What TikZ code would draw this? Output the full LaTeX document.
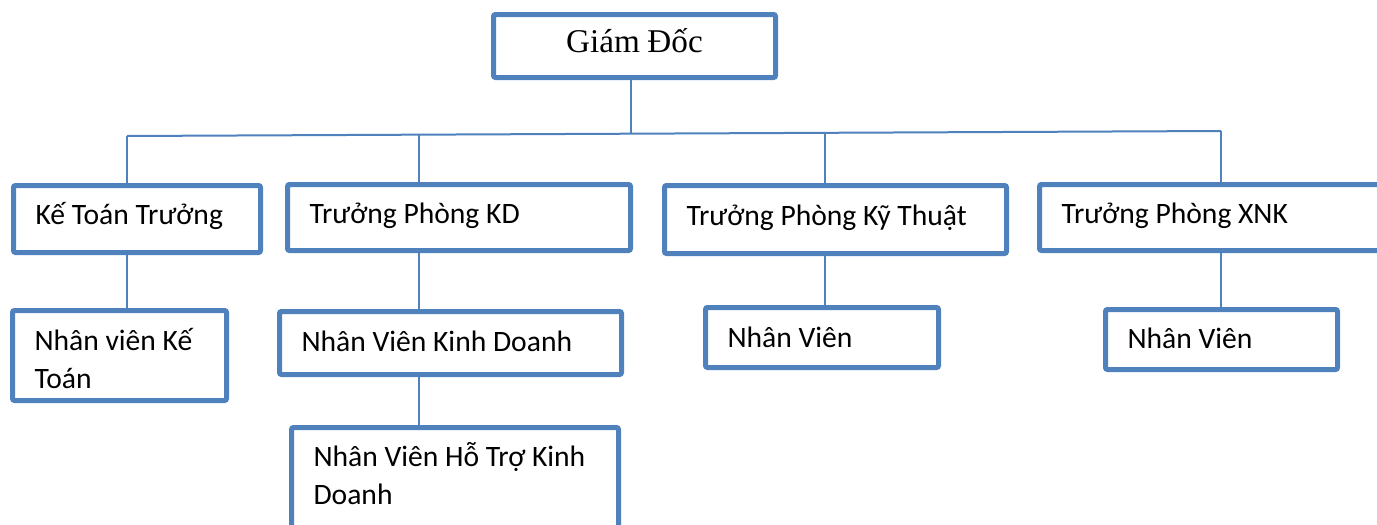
\documentclass[tikz,border=0pt]{standalone}
\usepackage{fontspec}
\setmainfont{Liberation Serif}
\newfontfamily\boxfont{Carlito}
\usetikzlibrary{positioning,calc}
\definecolor{boxblue}{HTML}{4F81BD}

\begin{document}
\begin{tikzpicture}[x=0.5pt,y=-0.5pt,
    box/.style={draw=boxblue, fill=white, line width=2.5pt, rounded corners=1pt,
      inner xsep=11pt, inner ysep=0pt, align=left,
      font=\boxfont\fontsize{14.8}{19}\selectfont, text height=9.5pt, text depth=4pt,
      execute at begin node={\spaceskip=0.226em\relax}},
    staff/.style={box, text height=12.5pt},
    link/.style={draw=boxblue, line width=1pt}]
    \clip (0,0) rectangle (1377,525);
    \fill[white] (0,0) rectangle (1377,525);

    % bus line under the director
    \coordinate (busl) at (127,136);
    \coordinate (busr) at (1221,131);
    \coordinate (bgd) at ($(busl)!0.461!(busr)$);
    \coordinate (bkd) at ($(busl)!0.267!(busr)$);
    \coordinate (bkt) at ($(busl)!0.638!(busr)$);

    \node[box, align=center, font=\fontsize{16.6}{19}\selectfont, text height=10pt,
      minimum width=141pt, minimum height=31.5pt] (gd) at (634.5,46) {Giám Đốc};

    \node[box, minimum width=123.5pt, text width=101.5pt, minimum height=33.5pt] (ktt) at (137,219) {Kế Toán Trưởng};
    \node[box, minimum width=171.5pt, text width=149.5pt, minimum height=33pt] (kd) at (459,217.5) {Trưởng Phòng KD};
    \node[box, minimum width=171pt, text width=149pt, minimum height=34pt] (kyt) at (835.5,219.5) {Trưởng Phòng Kỹ Thuật};
    \node[box, minimum width=171.5pt, text width=149.5pt, minimum height=33pt] (xnk) at (1211,217.5) {Trưởng Phòng XNK};

    \node[box, text depth=15pt, minimum width=107pt, text width=85pt, minimum height=45pt] (nvkt) at (119.5,355.5) {Nhân viên Kế\\Toán};
    \node[box, text height=12pt, minimum width=171pt, text width=149pt, minimum height=31.5pt] (nvkd) at (450.5,343) {Nhân Viên Kinh Doanh};
    \node[box, text depth=28.5pt, minimum width=163.5pt, text width=141.5pt, minimum height=57.5pt] (htkd) at (455,485) {Nhân Viên Hỗ Trợ Kinh\\Doanh};
    \node[staff, text height=13.5pt, minimum width=116.5pt, text width=94.5pt, minimum height=30pt] (nvkyt) at (822,337.5) {Nhân Viên};
    \node[staff, minimum width=116pt, text width=94pt, minimum height=30pt] (nvxnk) at (1221.5,339.5) {Nhân Viên};

    \draw[link] (busl) -- (busr);
    \draw[link] (bgd) -- (bgd |- gd.south);
    \draw[link] (busl) -- (busl |- ktt.north);
    \draw[link] (bkd) -- (bkd |- kd.north);
    \draw[link] (bkt) -- (bkt |- kyt.north);
    \draw[link] (busr) -- (busr |- xnk.north);

    \draw[link] (busl |- ktt.south) -- (busl |- nvkt.north);
    \draw[link] (bkd |- kd.south) -- (bkd |- nvkd.north);
    \draw[link] (bkd |- nvkd.south) -- (bkd |- htkd.north);
    \draw[link] (bkt |- kyt.south) -- (bkt |- nvkyt.north);
    \draw[link] (busr |- xnk.south) -- (busr |- nvxnk.north);
\end{tikzpicture}
\end{document}
